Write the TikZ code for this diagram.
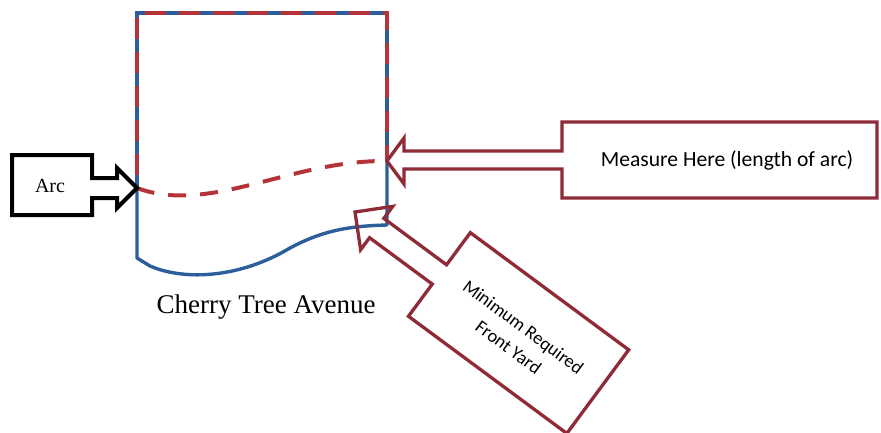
\documentclass[tikz,border=0pt]{standalone}
\usepackage{fontspec}
\usetikzlibrary{calc}
\setmainfont{Liberation Serif}
\newfontfamily\calibri{Carlito}
\definecolor{lotblue}{HTML}{2D5E9C}
\definecolor{lotred}{HTML}{B5343A}
\definecolor{callred}{HTML}{8F2A37}
\tikzset{
  lotline/.style={line width=3.4pt, lotblue},
  lotredline/.style={line width=3.4pt, lotred},
  lotdash/.style={line width=3.4pt, lotblue, dash pattern=on 13pt off 21pt},
  arcdash/.style={line width=4pt, lotred, dash pattern=on 18pt off 14pt},
  blackcall/.style={line width=4pt, black, line join=miter},
  redcall/.style={line width=3.3pt, callred, line join=miter},
}
\begin{document}
\begin{tikzpicture}[x=1pt,y=-1pt]
\useasboundingbox (0,0) rectangle (881,432);
% lot corners
\coordinate (tl) at (137,13);
\coordinate (tr) at (387,13);
\coordinate (al) at (137,188);
\coordinate (ar) at (387,161);
\coordinate (bl) at (137,258);
\coordinate (br) at (387,225);
% dashed (red/blue) upper boundary
\draw[lotredline] (al) -- (tl) -- (tr) -- (ar);
\draw[lotdash] (al) -- (tl) -- (tr) -- (ar);
% solid blue lower boundary
\draw[lotline, line join=round] (al) -- (bl) -- (150,266) .. controls (185,281) and (240,278) .. (290,248)
   .. controls (320,232) and (345,226) .. (br) -- (ar);
% dashed arc
\draw[arcdash] (al) .. controls (210,215) and (290,160) .. (ar);
% Arc callout
\draw[blackcall] (12,155) -- (92,155) -- (92,178) -- (117,178) -- (117,168) -- (al)
   -- (117,208) -- (117,198) -- (92,198) -- (92,215) -- (12,215) -- cycle;
\node[font=\fontsize{20}{24}\selectfont] (arclabel) at (50,186) {Arc};
% Measure callout
\draw[redcall] (ar) -- (404,138) -- (404,151) -- (562,151) -- (562,122) -- (877,122)
   -- (877,198) -- (562,198) -- (562,169) -- (404,169) -- (404,184) -- cycle;
\node[font=\calibri\fontsize{21.6}{25}\selectfont] (measure) at (727,160) {Measure Here (length of arc)};
% Minimum required front yard callout
\coordinate (mtip) at (355,212);
\begin{scope}[shift={(mtip)}, rotate=-36.5]
\draw[redcall] (0,0) -- (27,-27) -- (27,-12) -- (105,-12) -- (105,-52) -- (302,-52)
   -- (302,52) -- (105,52) -- (105,12) -- (27,12) -- (27,27) -- cycle;
\end{scope}
\node[font=\calibri\fontsize{18.4}{25}\selectfont, align=center, rotate=-36.5] (minyard)
   at ($(mtip)+(161,125)$) {Minimum Required\\Front Yard};
% street name
\node[font=\fontsize{27}{32}\selectfont] (street) at (266,307) {Cherry Tree Avenue};
\end{tikzpicture}
\end{document}
